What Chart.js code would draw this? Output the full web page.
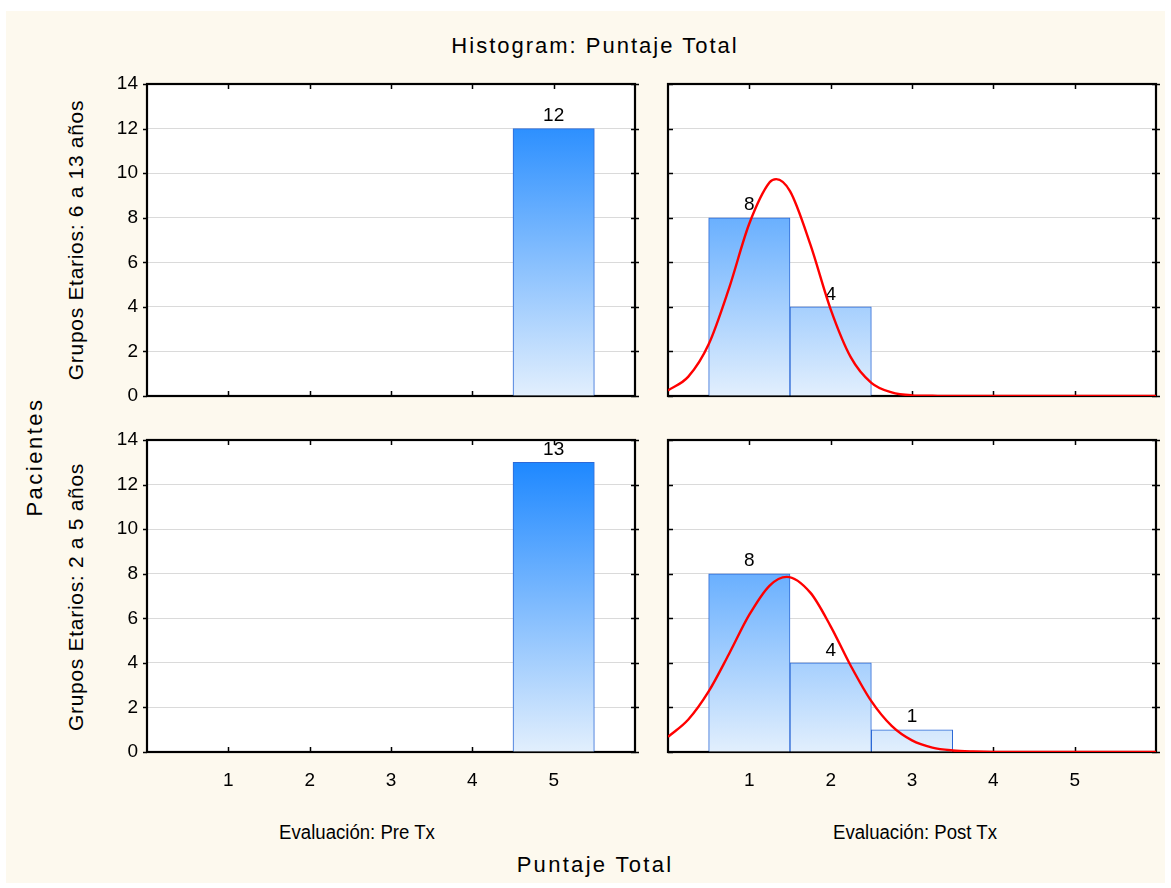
<!DOCTYPE html>
<html>
<head>
<meta charset="utf-8">
<script src="https://cdn.jsdelivr.net/npm/chart.js@4.4.1/dist/chart.umd.min.js"></script>
<style>
  html, body { margin:0; padding:0; background:#ffffff; }
  body { width:1171px; height:888px; position:relative; overflow:hidden; font-family:"Liberation Sans", Arial, sans-serif; color:#000; }
  #bg { position:absolute; left:6px; top:11px; width:1159px; height:872px; background:#FDF9EE; }
  canvas { position:absolute; }
  .txt { position:absolute; white-space:nowrap; line-height:1; }
</style>
</head>
<body>
<div id="bg"></div>
<canvas id="c1" width="560" height="336" style="left:90px;top:70px"></canvas>
<canvas id="c2" width="505" height="336" style="left:657px;top:70px"></canvas>
<canvas id="c3" width="560" height="366" style="left:90px;top:426px"></canvas>
<canvas id="c4" width="505" height="366" style="left:657px;top:426px"></canvas>

<div class="txt" style="left:595px;top:46px;transform:translate(-50%,-50%);font-size:22px;letter-spacing:2px;">Histogram: Puntaje Total</div>
<div class="txt" style="left:595px;top:865px;transform:translate(-50%,-50%);font-size:22px;letter-spacing:2.3px;">Puntaje Total</div>
<div class="txt" style="left:35px;top:457px;transform:translate(-50%,-50%) rotate(-90deg);font-size:22px;letter-spacing:2.5px;">Pacientes</div>
<div class="txt" style="left:75px;top:240px;transform:translate(-50%,-50%) rotate(-90deg);font-size:21px;letter-spacing:0.7px;">Grupos Etarios: 6 a 13 años</div>
<div class="txt" style="left:75px;top:597px;transform:translate(-50%,-50%) rotate(-90deg);font-size:21px;letter-spacing:0.7px;">Grupos Etarios: 2 a 5 años</div>
<div class="txt" style="left:357px;top:832px;transform:translate(-50%,-50%) scaleX(0.93);font-size:20px;">Evaluación: Pre Tx</div>
<div class="txt" style="left:915px;top:832px;transform:translate(-50%,-50%) scaleX(0.93);font-size:20px;">Evaluación: Post Tx</div>

<script>
// ---------------- DATA ----------------
const scoreBins = [1, 2, 3, 4, 5];                 // Puntaje Total categories
const xRange = [0, 6];
const yTicksMax = 14;
// Grupos Etarios: 6 a 13 años
const preTxOlder  = [0, 0, 0, 0, 12];
const postTxOlder = [8, 4, 0, 0, 0];
// Grupos Etarios: 2 a 5 años
const preTxYounger  = [0, 0, 0, 0, 13];
const postTxYounger = [8, 4, 1, 0, 0];
// fitted normal curves
const curveOlderX = [0, 0.25, 0.5, 0.75, 1, 1.25, 1.33, 1.5, 1.75, 2, 2.25, 2.5, 2.75, 3, 3.25, 3.5, 4, 5, 6];
const curveOlderY = [0.25, 0.87, 2.32, 4.83, 7.74, 9.59, 9.73, 9.19, 6.80, 3.89, 1.72, 0.59, 0.16, 0.03, 0.01, 0, 0, 0, 0];
const curveYoungerX = [0, 0.25, 0.5, 0.75, 1, 1.25, 1.46, 1.75, 2, 2.25, 2.5, 2.75, 3, 3.25, 3.5, 3.75, 4, 4.5, 5, 6];
const curveYoungerY = [0.68, 1.46, 2.72, 4.40, 6.16, 7.47, 7.86, 7.15, 5.64, 3.85, 2.28, 1.17, 0.52, 0.20, 0.07, 0.02, 0, 0, 0, 0];

// --------------- BUILD ----------------
function pts(xs, ys) { return xs.map((x, i) => ({ x: x, y: ys[i] })); }

Chart.defaults.font.family = '"Liberation Sans", Arial, sans-serif';
Chart.defaults.font.size = 19;
Chart.defaults.color = '#000';

function barGradient(context) {
  const chart = context.chart;
  if (!chart.chartArea) return '#7fb8ff';
  const y = chart.scales.y;
  const g = chart.ctx.createLinearGradient(0, y.getPixelForValue(0), 0, y.getPixelForValue(13));
  g.addColorStop(0, '#E2EFFD');
  g.addColorStop(1, '#1E88FF');
  return g;
}

const plotBgPlugin = {
  id: 'plotBg',
  beforeDraw(chart) {
    const { ctx, chartArea: a } = chart;
    ctx.save();
    ctx.fillStyle = '#FFFFFF';
    ctx.fillRect(a.left, a.top, a.right - a.left, a.bottom - a.top);
    ctx.restore();
  }
};

const framePlugin = {
  id: 'frame',
  beforeDatasetsDraw(chart, args, opts) {
    const { ctx, chartArea: a, scales } = chart;
    ctx.save();
    ctx.strokeStyle = '#000';
    ctx.lineWidth = 1.5;
    ctx.beginPath();
    scoreBins.forEach(b => {
      const px = Math.round(scales.x.getPixelForValue(b)) + 0.5;
      ctx.moveTo(px, a.bottom); ctx.lineTo(px, a.bottom - 5);
      ctx.moveTo(px, a.top); ctx.lineTo(px, a.top + 5);
    });
    scales.y.ticks.forEach((t, i) => {
      const py = Math.round(scales.y.getPixelForTick(i)) + 0.5;
      if (opts.leftOut) { ctx.moveTo(a.left - 4, py); ctx.lineTo(a.left, py); }
      else { ctx.moveTo(a.left, py); ctx.lineTo(a.left + 5, py); }
      ctx.moveTo(a.right - 4, py); ctx.lineTo(a.right + 4, py);
    });
    ctx.stroke();
    ctx.lineWidth = 2.2;
    ctx.strokeRect(a.left, a.top, a.right - a.left, a.bottom - a.top);
    ctx.restore();
  }
};

const labelPlugin = {
  id: 'barLabels',
  afterDatasetDraw(chart, args) {
    if (args.index !== 0) return;
    const { ctx } = chart;
    const ds = chart.data.datasets[0];
    ctx.save();
    ctx.fillStyle = '#000';
    ctx.font = '19px "Liberation Sans", Arial, sans-serif';
    ctx.textAlign = 'center';
    ctx.textBaseline = 'middle';
    args.meta.data.forEach((el, i) => {
      const v = ds.data[i].y;
      if (v) ctx.fillText(String(v), el.x, el.y - 12.5);
    });
    ctx.restore();
  }
};

function makePanel(id, vals, curve, o) {
  const datasets = [{
    type: 'bar', data: pts(scoreBins, vals), xAxisID: 'x', yAxisID: 'y',
    backgroundColor: barGradient, borderColor: '#2C69D6', borderWidth: 1,
    barPercentage: 1, categoryPercentage: 1, grouped: false, order: 2
  }];
  if (curve) {
    datasets.push({
      type: 'line', data: pts(curve[0], curve[1]), xAxisID: 'x', yAxisID: 'y',
      borderColor: '#FF0000', borderWidth: 2.4, pointRadius: 0, fill: false,
      cubicInterpolationMode: 'monotone', order: 1
    });
  }
  new Chart(document.getElementById(id), {
    type: 'bar',
    data: { datasets: datasets },
    options: {
      responsive: false, animation: false, devicePixelRatio: 1,
      layout: { padding: { top: 14, right: o.padRight, left: 0, bottom: 0 } },
      plugins: { legend: { display: false }, tooltip: { enabled: false }, frame: { leftOut: o.showY } },
      scales: {
        x: {
          type: 'linear', min: xRange[0], max: xRange[1], offset: false,
          grid: { display: false, drawTicks: false }, border: { display: false },
          ticks: {
            display: o.showX, stepSize: 1, autoSkip: false, maxRotation: 0, minRotation: 0, padding: 17,
            font: { size: 19 },
            callback: v => scoreBins.includes(v) ? String(v) : ''
          },
          afterFit(s) { s.height = o.xH; s.paddingLeft = 0; s.paddingRight = 0; }
        },
        y: {
          min: 0, max: yTicksMax,
          ticks: { stepSize: 2, display: o.showY, padding: 9, font: { size: 19 } },
          grid: { color: '#DADADA', drawTicks: false, lineWidth: 1 },
          border: { display: false },
          afterFit(s) { s.width = o.yW; s.paddingTop = 0; s.paddingBottom = 0; }
        }
      }
    },
    plugins: [plotBgPlugin, framePlugin, labelPlugin]
  });
}

makePanel('c1', preTxOlder, null, { showY: true, showX: false, yW: 57, xH: 10, padRight: 15 });
makePanel('c2', postTxOlder, [curveOlderX, curveOlderY], { showY: false, showX: false, yW: 11, xH: 10, padRight: 6 });
makePanel('c3', preTxYounger, null, { showY: true, showX: true, yW: 57, xH: 40, padRight: 15 });
makePanel('c4', postTxYounger, [curveYoungerX, curveYoungerY], { showY: false, showX: true, yW: 11, xH: 40, padRight: 6 });
</script>
</body>
</html>
